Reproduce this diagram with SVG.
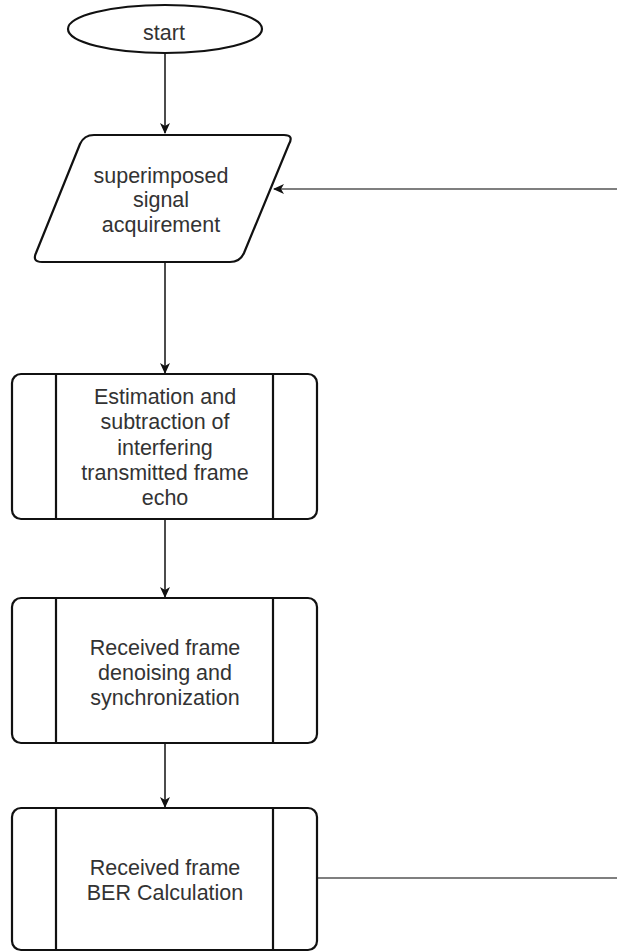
<svg xmlns="http://www.w3.org/2000/svg" width="617" height="952" viewBox="0 0 617 952">
<style>
.shape{fill:#fff;stroke:#111;stroke-width:2.2}
.t{font-family:"Liberation Sans",Arial,sans-serif;font-size:21.5px;fill:#333;text-anchor:middle}
.c{fill:none;stroke:#111;stroke-width:1.5}
.g{fill:none;stroke:#555;stroke-width:1.5}
</style>
<defs>
<marker id="ah" markerWidth="12" markerHeight="12" refX="10" refY="5" orient="auto" markerUnits="userSpaceOnUse" viewBox="0 0 12 10">
<path d="M0,0 L11,5 L0,10 L3,5 Z" fill="#111"/>
</marker>
</defs>
<rect width="617" height="952" fill="#fff"/>
<g id="connectors">
<path class="c" d="M165,53 V133" marker-end="url(#ah)"/>
<path class="c" d="M165,262 V373" marker-end="url(#ah)"/>
<path class="c" d="M165,519 V597" marker-end="url(#ah)"/>
<path class="c" d="M165,743 V807" marker-end="url(#ah)"/>
<path class="g" d="M317,878 H640 V189 H274" marker-end="url(#ah)"/>
</g>
<g id="start">
<ellipse class="shape" cx="165" cy="29" rx="97" ry="24"/>
<text class="t" x="164" y="40">start</text>
</g>
<g id="acquire">
<path class="shape" d="M94,135 H284 Q294,135 289,144 L244,253 Q240,262 230,262 H42 Q32,262 36,253 L80,144 Q84,135 94,135 Z"/>
<text class="t" x="161" y="183">superimposed</text>
<text class="t" x="161" y="207">signal</text>
<text class="t" x="161" y="232">acquirement</text>
</g>
<g id="estimation">
<rect class="shape" x="12" y="374" width="305" height="145" rx="9"/>
<line class="shape" x1="56" y1="374" x2="56" y2="519"/>
<line class="shape" x1="273" y1="374" x2="273" y2="519"/>
<text class="t" x="165" y="404">Estimation and</text>
<text class="t" x="165" y="429">subtraction of</text>
<text class="t" x="165" y="455">interfering</text>
<text class="t" x="165" y="480">transmitted frame</text>
<text class="t" x="165" y="505">echo</text>
</g>
<g id="denoise">
<rect class="shape" x="12" y="598" width="305" height="145" rx="9"/>
<line class="shape" x1="56" y1="598" x2="56" y2="743"/>
<line class="shape" x1="273" y1="598" x2="273" y2="743"/>
<text class="t" x="165" y="655">Received frame</text>
<text class="t" x="165" y="680">denoising and</text>
<text class="t" x="165" y="705">synchronization</text>
</g>
<g id="ber">
<rect class="shape" x="12" y="808" width="305" height="142" rx="9"/>
<line class="shape" x1="56" y1="808" x2="56" y2="950"/>
<line class="shape" x1="273" y1="808" x2="273" y2="950"/>
<text class="t" x="165" y="875">Received frame</text>
<text class="t" x="165" y="900">BER Calculation</text>
</g>
</svg>
